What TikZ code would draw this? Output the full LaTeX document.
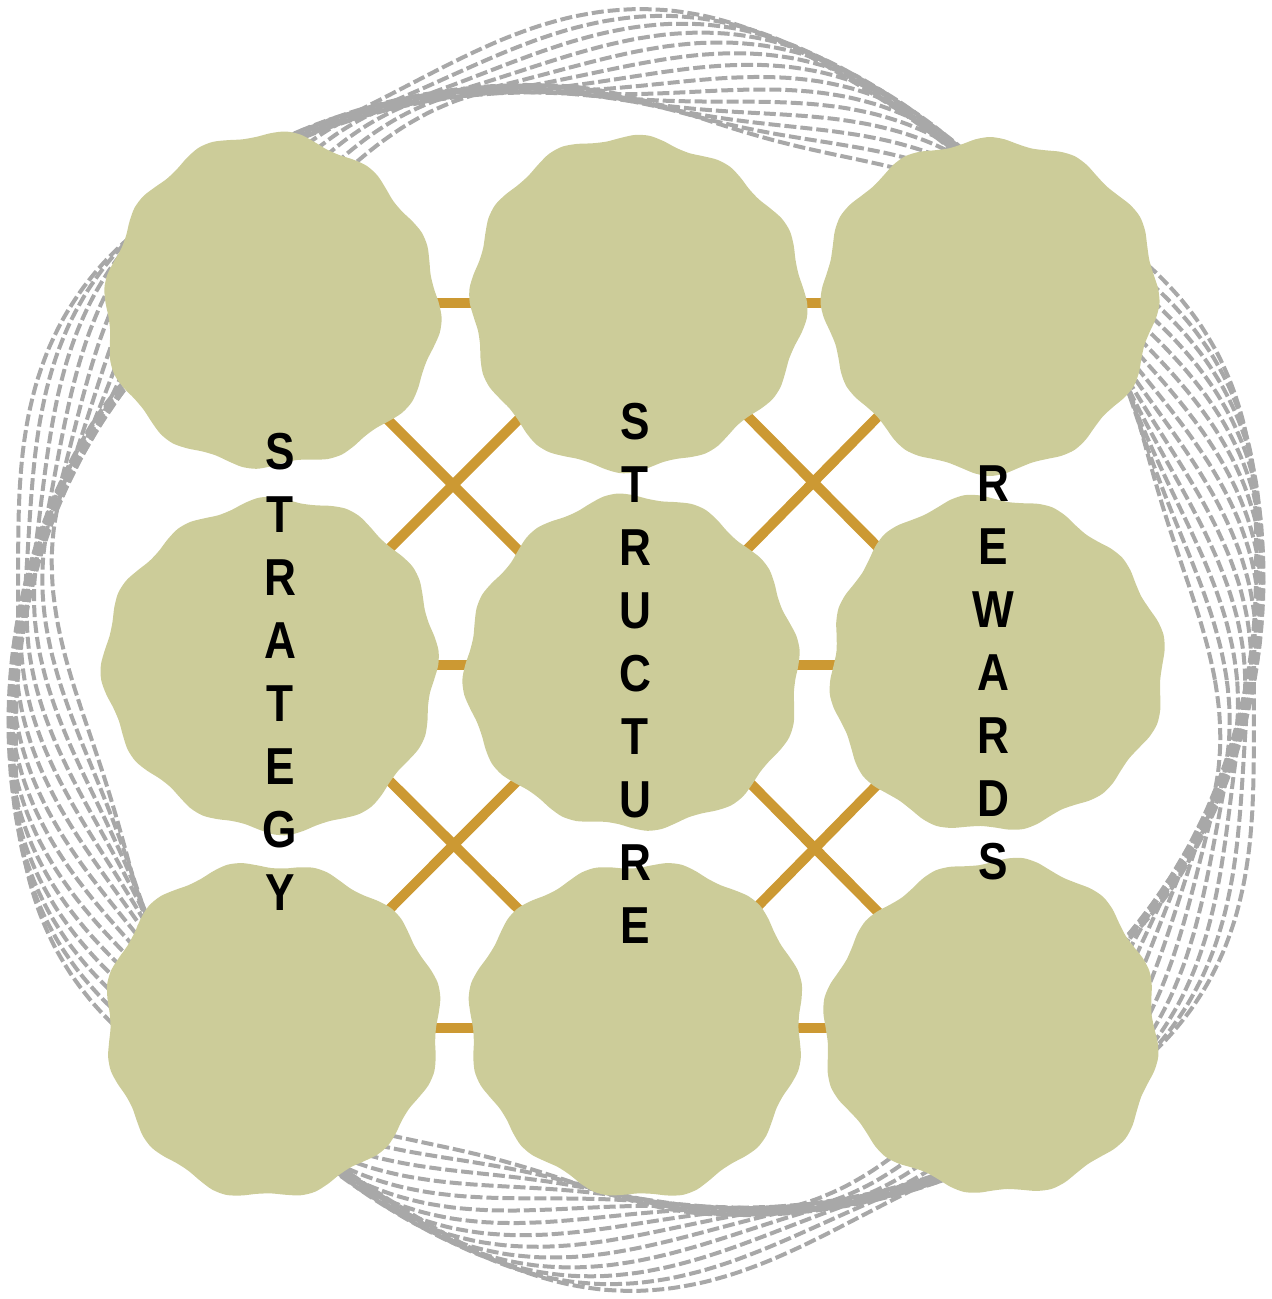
\documentclass[tikz,border=0pt]{standalone}
\usepackage{fontspec}
\newfontfamily\lblfont{Liberation Sans}
\definecolor{blobc}{HTML}{CCCC99}
\definecolor{linkc}{HTML}{CC9933}
\definecolor{ringc}{HTML}{A8A8A8}
\tikzset{
  hub/.style={circle, minimum size=330pt, inner sep=0pt},
  blobfill/.style={fill=blobc},
  link/.style={draw=linkc, line width=10pt},
  strand/.style={draw=ringc, line width=4pt, dash pattern=on 12pt off 4pt},
  word/.style={align=center, inner sep=0pt, xscale=0.85,
    font=\lblfont\bfseries\fontsize{52}{63}\selectfont}
}
\newcommand\myblob[2]{\fill[blobfill, shift={(#1.center)}] plot[smooth cycle, domain=0:355, samples=72]
  ({(166+3.5*sin(12*\x+#2)+3.5*sin(3*\x+2*#2))*cos(\x)},{(166+3.5*sin(12*\x+#2)+3.5*sin(3*\x+2*#2))*sin(\x)});}
\begin{document}
\begin{tikzpicture}[x=1pt,y=-1pt]
\useasboundingbox (0,0) rectangle (1272,1299);
% ring of strands
\coordinate (RC) at (636,650);
\foreach \i in {0,...,13}{
  \draw[strand, shift={(RC)}] plot[smooth cycle, domain=0:357, samples=120]
   ({(562+5.2*\i+22*sin(6*\x+20*\i)+12*sin(2*\x+60))*cos(\x)},
    {(562+5.2*\i+22*sin(6*\x+20*\i)+12*sin(2*\x+60))*sin(\x)});
}
% hubs
\node[hub] (TL) at (271,303) {};
\node[hub] (TM) at (635,303) {};
\node[hub] (TR) at (990,303) {};
\node[hub] (ML) at (273,665) {};
\node[hub] (MM) at (633,665) {};
\node[hub] (MR) at (995,665) {};
\node[hub] (BL) at (271,1028) {};
\node[hub] (BM) at (638,1028) {};
\node[hub] (BR) at (993,1028) {};
% connectors
\draw[link] (TL.center) -- (TM.center);
\draw[link] (TM.center) -- (TR.center);
\draw[link] (ML.center) -- (MM.center);
\draw[link] (MM.center) -- (MR.center);
\draw[link] (BL.center) -- (BM.center);
\draw[link] (BM.center) -- (BR.center);
\draw[link] (TL.center) -- (MM.center);
\draw[link] (TM.center) -- (ML.center);
\draw[link] (TM.center) -- (MR.center);
\draw[link] (TR.center) -- (MM.center);
\draw[link] (ML.center) -- (BM.center);
\draw[link] (MM.center) -- (BL.center);
\draw[link] (MM.center) -- (BR.center);
\draw[link] (MR.center) -- (BM.center);
% blobs
\myblob{TL}{10}
\myblob{TM}{50}
\myblob{TR}{90}
\myblob{ML}{130}
\myblob{MM}{170}
\myblob{MR}{210}
\myblob{BL}{250}
\myblob{BM}{290}
\myblob{BR}{330}
% words
\node[word] (w1) at (280,671.5) {S\\T\\R\\A\\T\\E\\G\\Y};
\node[word] (w2) at (635,673.5) {S\\T\\R\\U\\C\\T\\U\\R\\E};
\node[word] (w3) at (993,672.5) {R\\E\\W\\A\\R\\D\\S};
\end{tikzpicture}
\end{document}
